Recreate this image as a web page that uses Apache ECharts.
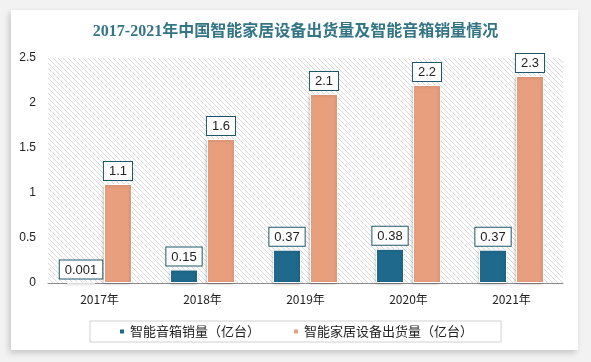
<!DOCTYPE html>
<html><head><meta charset="utf-8">
<script src="https://cdn.jsdelivr.net/npm/echarts@6/dist/echarts.min.js"></script>
<style>
html,body{margin:0;padding:0;background:#f2f2f2;}
#card{position:absolute;left:11px;top:10px;width:567px;height:340px;background:#fff;box-shadow:-2px 3px 6px rgba(0,0,0,0.18);}
#c{position:absolute;left:0;top:0;width:591px;height:362px;}
</style></head>
<body>
<div id="card"></div>
<div id="c"></div>
<script>
var categories = ['2017年','2018年','2019年','2020年','2021年'];
var speakerSales = [0.001, 0.15, 0.37, 0.38, 0.37];
var homeShipments = [1.1, 1.6, 2.1, 2.2, 2.3];
var seriesNames = ['智能音箱销量（亿台）','智能家居设备出货量（亿台）'];
var titleText = '2017-2021年中国智能家居设备出货量及智能音箱销量情况';

var pc = document.createElement('canvas');
pc.width = 5; pc.height = 5;
var g = pc.getContext('2d');
g.fillStyle = '#ffffff'; g.fillRect(0,0,5,5);
g.strokeStyle = '#dadada'; g.lineWidth = 1;
g.beginPath();
g.moveTo(-1,-1); g.lineTo(6,6);
g.moveTo(-1,4); g.lineTo(2,7);
g.moveTo(4,-1); g.lineTo(7,2);
g.stroke();

var chart = echarts.init(document.getElementById('c'), null, {renderer:'canvas'});
var labelStyle = {
  show: true, position: 'top', distance: 4,
  backgroundColor: '#fff', borderColor: '#1d5868', borderWidth: 1,
  padding: [3,5,2,5], fontSize: 13, color: '#222', fontFamily: 'Liberation Sans, Arial, sans-serif'
};
chart.setOption({
  animation: false,
  title: {
    text: titleText, left: 'center', top: 19,
    textStyle: {fontSize: 16, fontWeight: 'bold', color: '#347585', fontFamily: 'Liberation Serif, Noto Sans CJK SC'}
  },
  grid: {left: 48, right: 28, top: 58, bottom: 79, show: true, borderWidth: 0,
    backgroundColor: {image: pc, repeat: 'repeat'}},
  legend: {
    bottom: 20, left: 'center', itemWidth: 6, itemHeight: 6, itemGap: 32,
    padding: [4, 28, 4, 28], borderColor: '#d0d0d0', borderWidth: 1,
    icon: 'rect',
    textStyle: {fontSize: 13, color: '#222', fontFamily: 'Noto Sans CJK SC'},
    data: seriesNames
  },
  xAxis: {
    type: 'category', data: categories,
    axisLine: {lineStyle: {color: '#8c8c8c'}},
    axisTick: {show: false},
    axisLabel: {color: '#222', fontSize: 12, margin: 10, fontFamily: 'Noto Sans CJK SC'}
  },
  yAxis: {
    type: 'value', min: 0, max: 2.5, interval: 0.5,
    axisLine: {show: false}, axisTick: {show: false},
    splitLine: {show: false},
    axisLabel: {color: '#222', fontSize: 12, margin: 12, fontFamily: 'Liberation Sans, Arial, sans-serif'}
  },
  series: [
    {name: seriesNames[0], type: 'bar', data: speakerSales, barWidth: 28, barGap: '32%',
     itemStyle: {color: '#1f6a8c', borderColor: '#fff', borderWidth: 1, shadowColor: 'rgba(0,0,0,0.2)', shadowBlur: 3, shadowOffsetX: -1, shadowOffsetY: 1},
     label: labelStyle},
    {name: seriesNames[1], type: 'bar', data: homeShipments, barWidth: 28,
     itemStyle: {color: '#e89f7e', borderColor: '#fff', borderWidth: 1, shadowColor: 'rgba(0,0,0,0.2)', shadowBlur: 3, shadowOffsetX: -1, shadowOffsetY: 1},
     label: labelStyle}
  ]
});
</script>
</body></html>
